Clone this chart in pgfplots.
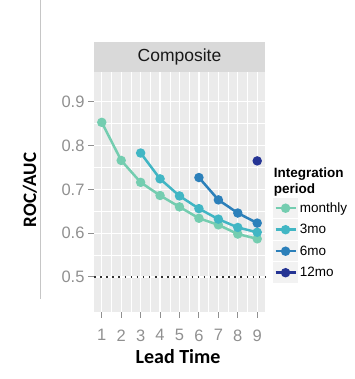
\documentclass[border=0pt]{standalone}
\usepackage{pgfplots}
\pgfplotsset{compat=1.18}
\usepackage{fontspec}
\setmainfont{Liberation Sans}
\newfontfamily\calibri{Carlito}
\definecolor{panelbg}{HTML}{EBEBEB}
\definecolor{stripbg}{HTML}{D9D9D9}
\definecolor{tickgray}{HTML}{909090}
\definecolor{cmonthly}{HTML}{74CDB0}
\definecolor{cthree}{HTML}{41B6C4}
\definecolor{csix}{HTML}{2C80BA}
\definecolor{ctwelve}{HTML}{253494}
\begin{document}
\begin{tikzpicture}
\useasboundingbox (0pt,0pt) rectangle (354pt,379pt);
\draw[gray!45, line width=0.6pt] (40pt,379pt) -- (40pt,80pt);
% strip
\fill[stripbg] (94pt,307pt) rectangle (265pt,337pt);
\node[font=\fontsize{17.5}{20}\selectfont, text=black!90] at (179.5pt,322pt) {Composite};
\begin{axis}[
  at={(94pt,67pt)}, anchor=south west,
  scale only axis, width=171pt, height=240pt,
  xmin=0.6, xmax=9.4, ymin=0.42, ymax=0.968,
  xtick={1,...,9}, ytick={0.5,0.6,0.7,0.8,0.9},
  yticklabels={0.5,0.6,0.7,0.8,0.9},
  minor x tick num=1, minor y tick num=1,
  axis background/.style={fill=panelbg},
  axis line style={draw=none},
  grid=both,
  major grid style={white, line width=1.2pt},
  minor grid style={white, line width=0.5pt},
  tick align=outside, tick pos=left,
  major tick length=6pt, minor tick length=0pt,
  tick style={tickgray, line width=1pt},
  ticklabel style={text=tickgray, font=\fontsize{16.5}{18}\selectfont},
  xticklabel style={yshift=-8pt},
  /pgf/number format/assume math mode=true,
  clip=false,
  legend style={at={(1.03,0.62)}, anchor=north west, draw=none, fill=none,
    font=\fontsize{13.5}{15}\selectfont, row sep=1pt},
  legend cell align=left,
  legend image code/.code={
    \fill[black!5] (0pt,-9pt) rectangle (22pt,9pt);
    \draw[mark repeat=2,mark phase=2] plot coordinates {(1pt,0pt) (11pt,0pt) (21pt,0pt)};
  },
]
\addlegendimage{empty legend}\addlegendentry{\hspace{-26pt}\bfseries Integration}
\addlegendimage{empty legend}\addlegendentry{\hspace{-26pt}\bfseries period}
\addplot[black!80, line width=1.3pt, dash pattern=on 1.5pt off 4.6pt, forget plot] coordinates {(0.6,0.5) (9.4,0.5)};
\addplot[cmonthly, line width=2.5pt, mark=*, mark size=3.4pt] coordinates {
(1,0.853) (2,0.766) (3,0.716) (4,0.686) (5,0.660) (6,0.634) (7,0.619) (8,0.598) (9,0.587)};
\addlegendentry{monthly}
\addplot[cthree, line width=2.5pt, mark=*, mark size=3.4pt] coordinates {
(3,0.783) (4,0.724) (5,0.685) (6,0.656) (7,0.632) (8,0.613) (9,0.602)};
\addlegendentry{3mo}
\addplot[csix, line width=2.5pt, mark=*, mark size=3.4pt] coordinates {
(6,0.727) (7,0.676) (8,0.646) (9,0.623)};
\addlegendentry{6mo}
\addplot[ctwelve, line width=2.5pt, mark=*, mark size=3.4pt] coordinates {(9,0.765)};
\addlegendentry{12mo}
\end{axis}
\node[rotate=90, font=\calibri\bfseries\fontsize{19}{22}\selectfont] at (30pt,189pt) {ROC/AUC};
\node[font=\calibri\bfseries\fontsize{20}{24}\selectfont] at (178pt,22pt) {Lead Time};
\end{tikzpicture}
\end{document}
